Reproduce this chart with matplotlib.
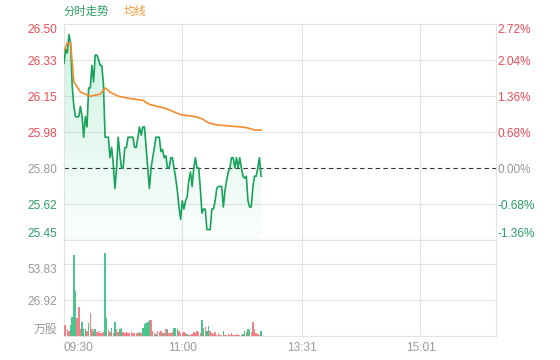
import numpy as np
import matplotlib
matplotlib.use("Agg")
import matplotlib.pyplot as plt
from matplotlib.colors import to_rgb

plt.rcParams['font.family'] = ['Liberation Sans', 'Noto Sans CJK SC', 'DejaVu Sans']

# ---- data ----
prev_close = 25.80
pct_ticks = [2.72, 2.04, 1.36, 0.68, 0.00, -0.68, -1.36]
price_labels = ['26.50', '26.33', '26.15', '25.98', '25.80', '25.62', '25.45']
pct_labels = ['2.72%', '2.04%', '1.36%', '0.68%', '0.00%', '-0.68%', '-1.36%']

time_pos = [0, 72, 145, 217]
time_labels = ['09:30', '11:00', '13:31', '15:01']
n_slots = 263

price = [26.31, 26.38, 26.36, 26.45, 26.41, 26.20, 26.10, 26.05, 26.05, 26.05,
         26.10, 26.05, 25.95, 26.05, 26.00, 26.19, 26.19, 26.30, 26.22, 26.35,
         26.35, 26.33, 26.30, 26.30, 26.21, 25.95, 25.95, 25.95, 25.85, 25.90,
         25.82, 25.70, 25.80, 25.95, 25.87, 25.80, 25.80, 25.90, 25.90, 25.95,
         25.95, 25.95, 25.95, 25.90, 25.90, 25.95, 26.00, 25.96, 26.00, 26.00,
         25.90, 25.80, 25.70, 25.80, 25.85, 25.90, 25.95, 25.95, 25.95, 25.88,
         25.89, 25.85, 25.86, 25.80, 25.80, 25.85, 25.85, 25.80, 25.75, 25.69,
         25.61, 25.55, 25.64, 25.60, 25.64, 25.66, 25.74, 25.78, 25.71, 25.80,
         25.85, 25.80, 25.80, 25.70, 25.58, 25.60, 25.60, 25.50, 25.50, 25.50,
         25.60, 25.60, 25.64, 25.70, 25.71, 25.71, 25.71, 25.61, 25.69, 25.74,
         25.78, 25.80, 25.85, 25.85, 25.80, 25.85, 25.80, 25.85, 25.80, 25.76,
         25.75, 25.76, 25.64, 25.61, 25.61, 25.71, 25.76, 25.76, 25.80, 25.85,
         25.76]

avg_idx = [0, 2, 4, 6, 10, 16, 22, 25, 28, 33, 39, 48, 52, 62, 71, 80, 84, 88,
           93, 108, 112, 116, 120]
avg_val = [26.37, 26.41, 26.41, 26.22, 26.17, 26.15, 26.16, 26.19, 26.17, 26.15,
           26.14, 26.13, 26.11, 26.09, 26.06, 26.05, 26.04, 26.02, 26.01, 26.00,
           25.995, 25.985, 25.985]

volume = [8, 8, 5, 4, 8, 14.4, 60.6, 34, 13.5, 22,
          5, 10.7, 5, 5, 4, 9.7, 17, 5, 4, 5,
          3, 4, 2.5, 2, 3, 62.3, 13.5, 4.5, 3, 6,
          2, 10.5, 5, 3, 5.5, 5.7, 3, 2, 3, 2,
          2, 3, 2, 2, 2.5, 2, 3, 2, 6, 9,
          10, 10.7, 12, 12, 4, 2, 1.5, 4, 3, 4,
          2, 2, 5.5, 5.5, 2, 2, 3, 6, 6, 5.5,
          4, 2, 2, 3, 2, 1.5, 1, 1, 1.5, 3,
          2, 4, 3, 2, 12, 6, 6.7, 4, 7.7, 4,
          2.5, 1.5, 3, 1, 2, 1, 1, 3.5, 1, 1,
          1.5, 1, 2, 1, 1, 1.5, 1, 1, 1, 1.5,
          4, 3, 5.5, 4.5, 3, 10.7, 5, 2, 1.5, 1,
          3.5]
# u = up (red), d = down (green), one letter per minute
vol_dir = ("uuuudddduu" "uddduduudd" "uuuuudduud" "uduudduuuu" "uuuuuududd"
           "ddduuuduuu" "duuduuuddd" "uuuuuduuuu" "uuuudduddu" "uuuuuuuduu"
           "uuuuuuuuud" "dudduuuuuu" "d")
vol_ticks = [0, 26.92, 53.83]
vol_labels = ['万股', '26.92', '53.83']
vol_top = 71.8

# ---- style ----
RED = '#e84c55'
GREEN = '#2a9d64'
GRAY = '#999999'
LINE_GREEN = '#17a35c'
ORANGE = '#f28c2c'
GRID = '#e3e3e3'
FS = 8.6

fig = plt.figure(figsize=(5.6, 3.6), dpi=100)
ax = fig.add_axes([64 / 560, 1 - 240 / 360, 432 / 560, 216 / 360])
axv = fig.add_axes([64 / 560, 1 - 336 / 360, 432 / 560, 96 / 360])

x = np.arange(len(price))
ymin = prev_close * (1 + pct_ticks[-1] / 100)
ymax = prev_close * (1 + pct_ticks[0] / 100)
price_ticks = [prev_close * (1 + p / 100) for p in pct_ticks]

for a in (ax, axv):
    a.set_xlim(0, n_slots)
    a.set_xticks(time_pos)
    a.grid(True, color=GRID, lw=0.8)
    a.set_axisbelow(True)
    a.tick_params(length=0)
    for s in a.spines.values():
        s.set_color(GRID)
        s.set_linewidth(0.8)

# gradient fill under price line
poly = ax.fill_between(x, price, ymin, color='none', lw=0)
rgb = to_rgb('#1fc47a')
grad = np.zeros((256, 1, 4))
grad[..., 0], grad[..., 1], grad[..., 2] = rgb
grad[:, 0, 3] = np.linspace(0.22, 0.02, 256)
img = ax.imshow(grad, extent=[0, len(price) - 1, ymin, ymax], aspect='auto',
                origin='upper', zorder=1)
img.set_clip_path(poly.get_paths()[0], transform=ax.transData)

ax.plot(x, price, color=LINE_GREEN, lw=1.2, zorder=3)
ax.plot(avg_idx, avg_val, color=ORANGE, lw=1.2, zorder=3)
ax.axhline(prev_close, color='#333333', lw=0.8, dashes=(4, 3), zorder=2)

ax.set_ylim(ymin, ymax)
ax.set_yticks(price_ticks)
ax.set_yticklabels(price_labels, fontsize=FS)
ax.tick_params(axis='y', pad=5)
ax.set_xticklabels([])
for lab, p in zip(ax.get_yticklabels(), pct_ticks):
    lab.set_color(RED if p > 0 else (GREEN if p < 0 else GRAY))
ax.get_yticklabels()[0].set_va('top')
ax.get_yticklabels()[-1].set_va('bottom')
# the 0% gridline is replaced by the dashed line
ax.yaxis.get_gridlines()[4].set_visible(False)

ax2 = ax.twinx()
ax2.set_ylim(ymin, ymax)
ax2.set_yticks(price_ticks)
ax2.set_yticklabels(pct_labels, fontsize=FS)
ax2.tick_params(length=0, pad=1)
for s in ax2.spines.values():
    s.set_visible(False)
for lab, p in zip(ax2.get_yticklabels(), pct_ticks):
    lab.set_color(RED if p > 0 else (GREEN if p < 0 else GRAY))
ax2.get_yticklabels()[0].set_va('top')
ax2.get_yticklabels()[-1].set_va('bottom')

# volume bars
vx = np.arange(len(volume))
vcol = ['#f26b73' if d == 'u' else '#2dba7a' for d in vol_dir[:len(volume)]]
axv.bar(vx, volume, width=0.9, color=vcol, alpha=0.85, lw=0, zorder=3)
axv.set_ylim(0, vol_top)
axv.set_yticks(vol_ticks)
axv.set_yticklabels(vol_labels, fontsize=FS, color=GRAY)
axv.tick_params(axis='y', pad=5)
axv.get_yticklabels()[0].set_va('bottom')
axv.get_yticklabels()[2].set_va('top')
axv.set_xticklabels(time_labels, fontsize=FS, color=GRAY)
axv.tick_params(axis='x', pad=4)
axv.get_xticklabels()[0].set_ha('left')

# legend-like header
fig.text(64 / 560, 1 - 11 / 360, '分时走势', color=GREEN, fontsize=8.2,
         va='center', ha='left', family=['Noto Sans CJK SC', 'DejaVu Sans'])
fig.text(124 / 560, 1 - 11 / 360, '均线', color='#f39a3d', fontsize=8.2,
         va='center', ha='left', family=['Noto Sans CJK SC', 'DejaVu Sans'])

fig.savefig('out.png', dpi=100)
